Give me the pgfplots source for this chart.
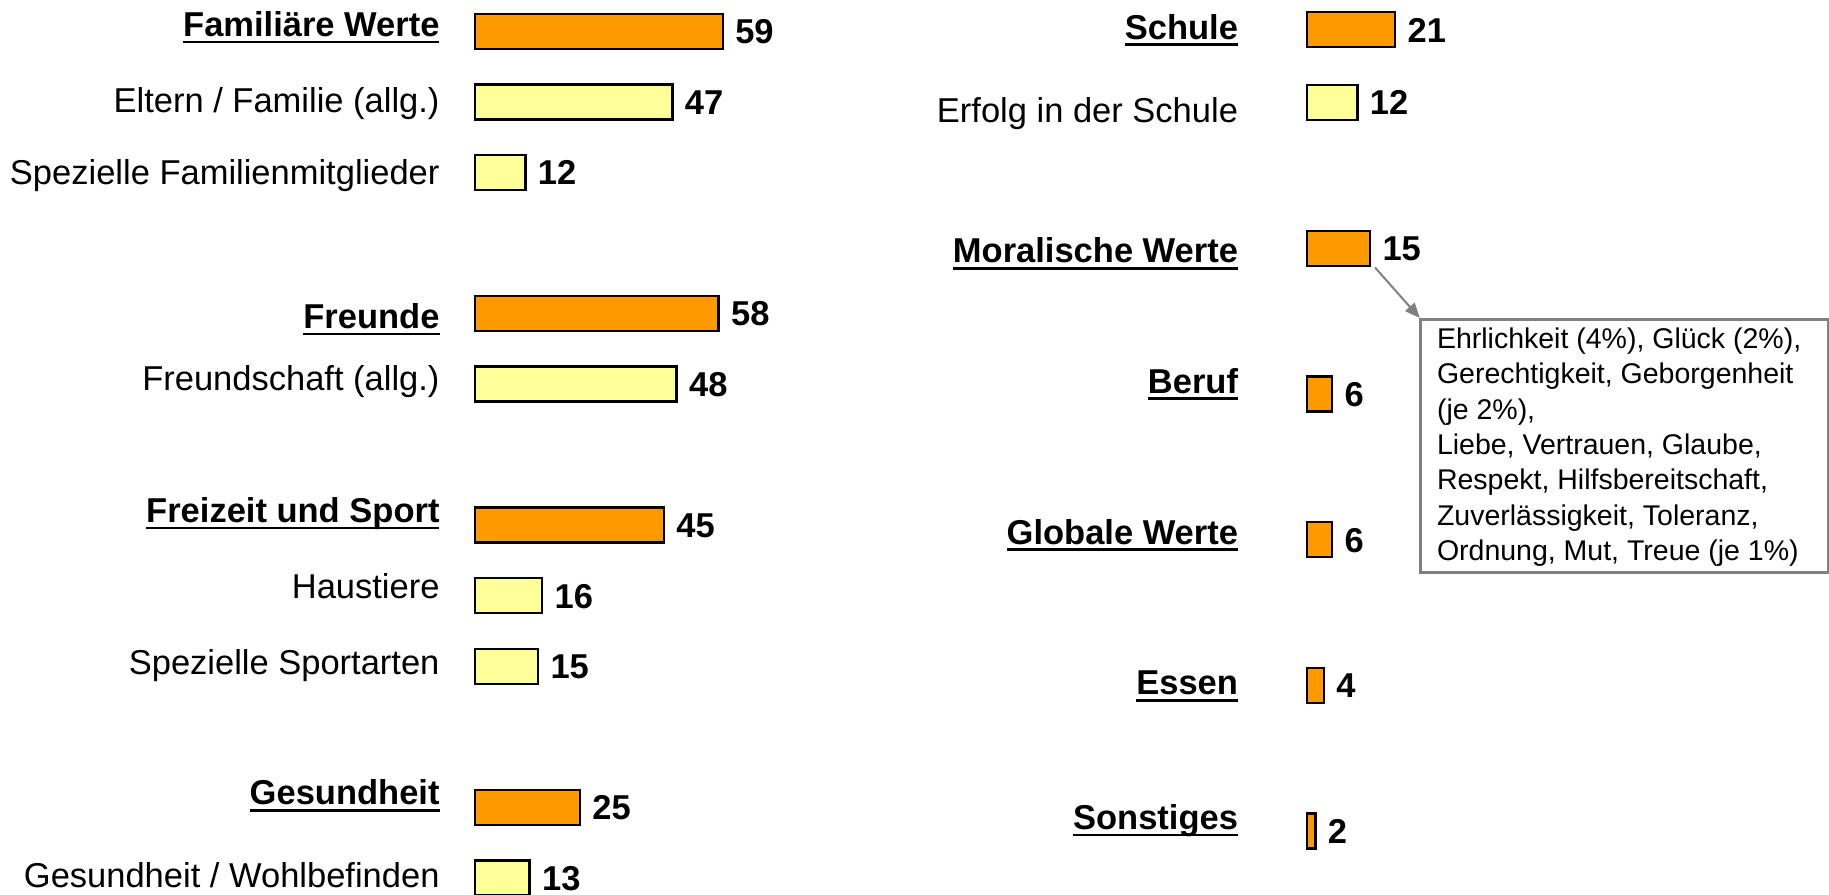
\documentclass[border=0pt]{standalone}
\usepackage{pgfplots}
\pgfplotsset{compat=1.18}
\usepackage{fontspec}
\setmainfont{Liberation Sans}
\usetikzlibrary{arrows.meta}
\definecolor{barorange}{HTML}{FF9900}
\definecolor{baryellow}{HTML}{FFFF99}
\definecolor{boxgray}{HTML}{808080}
\newcommand{\ul}[1]{\setbox0\hbox{#1}\rlap{\rule[-2.7bp]{\wd0}{1.1bp}}\box0}
\newcommand{\lab}{\fontsize{13.8bp}{16bp}\selectfont}
\newcommand{\anno}{\fontsize{11.4bp}{14bp}\selectfont}
\pgfplotsset{
  panel/.style={
    xbar, bar width=14bp, bar shift=0pt,
    y dir=reverse,
    xmin=0, xmax=70, ymin=-0.5,
    x=1.68bp,
    clip=false,
    axis x line=none,
    axis y line*=left,
    y axis line style={draw=none},
    ytick style={draw=none},
    major tick length=0pt,
    yticklabel style={font=\lab, anchor=east, inner sep=0pt, text height=9.9bp, text depth=0pt},
    point meta=x,
    nodes near coords,
    nodes near coords style={font=\lab\bfseries, anchor=west, inner sep=0pt, xshift=4.5bp, text height=9.9bp, text depth=0pt,
      /pgf/number format/assume math mode=true},
    every axis plot/.append style={draw=black, line width=1bp},
  }
}
\begin{document}
\begin{tikzpicture}
\useasboundingbox (0,0) rectangle (731.6bp,358bp);
% left panel
\begin{axis}[panel,
  at={(190bp,359.59bp)}, anchor=north west,
  ymax=12.5, y=28.22bp,
  yticklabel style={xshift=-14bp},
  ytick={-0.10,0.97,2.0,4.04,4.915,6.79,7.865,8.936,10.79,11.96},
  yticklabels={\textbf{\ul{Familiäre Werte}},Eltern / Familie (allg.),Spezielle Familienmitglieder,\textbf{\ul{Freunde}},Freundschaft (allg.),\textbf{\ul{Freizeit und Sport}},Haustiere,Spezielle Sportarten,\textbf{\ul{Gesundheit}},Gesundheit / Wohlbefinden},
]
\addplot[fill=barorange] coordinates {(59,0) (58,4) (45,7) (25,11)};
\addplot[fill=baryellow] coordinates {(47,1) (12,2) (48,5) (16,8) (15,9) (13,12)};
\end{axis}
% right panel
\begin{axis}[panel,
  at={(522.8bp,360.69bp)}, anchor=north west,
  xmax=30,
  ymax=11.5, y=29.14bp,
  yticklabel style={xshift=-27.4bp},
  ytick={-0.04,1.11,3.03,4.82,6.89,8.96,10.81},
  yticklabels={\textbf{\ul{Schule}},Erfolg in der Schule,\textbf{\ul{Moralische Werte}},\textbf{\ul{Beruf}},\textbf{\ul{Globale Werte}},\textbf{\ul{Essen}},\textbf{\ul{Sonstiges}}},
]
\addplot[fill=barorange] coordinates {(21,0) (15,3) (6,5) (6,7) (4,9) (2,11)};
\addplot[fill=baryellow] coordinates {(12,1)};
\end{axis}
% annotation
\draw[boxgray, line width=0.8bp, -{Triangle[length=6bp,width=5bp]}] (550bp,251bp) -- (567.9bp,230.8bp);
\draw[boxgray, fill=white, line width=1bp] (568.2bp,128.9bp) rectangle (731.2bp,230.1bp);
\begin{scope}[every node/.style={anchor=base west, inner sep=0pt, font=\anno}]
\node at (574.6bp,218.64bp) {Ehrlichkeit (4\%), Glück (2\%),};
\node at (574.6bp,204.48bp) {Gerechtigkeit, Geborgenheit};
\node at (574.6bp,190.32bp) {(je 2\%),};
\node at (574.6bp,176.16bp) {Liebe, Vertrauen, Glaube,};
\node at (574.6bp,162.00bp) {Respekt, Hilfsbereitschaft,};
\node at (574.6bp,147.84bp) {Zuverlässigkeit, Toleranz,};
\node at (574.6bp,133.68bp) {Ordnung, Mut, Treue (je 1\%)};
\end{scope}
\end{tikzpicture}
\end{document}
